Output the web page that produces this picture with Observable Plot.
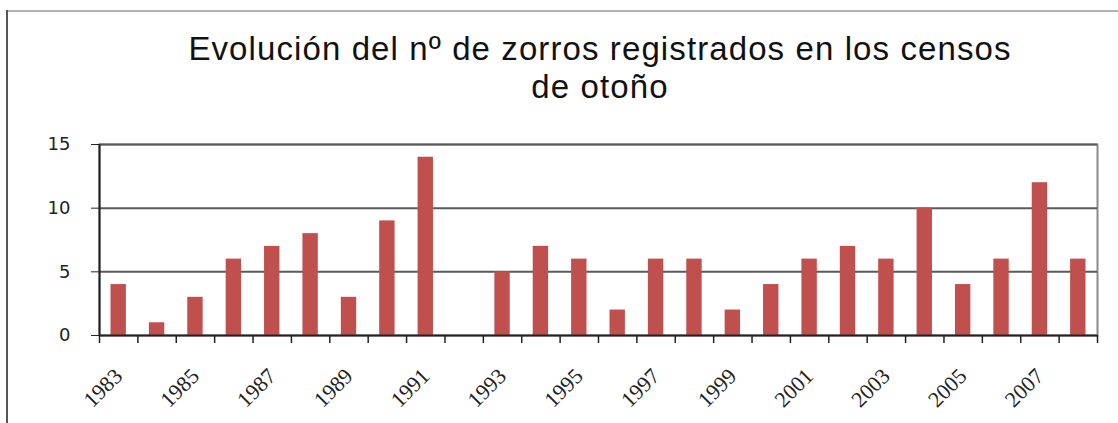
<!DOCTYPE html>
<html>
<head>
<meta charset="utf-8">
<script src="https://cdn.jsdelivr.net/npm/d3@7"></script>
<script src="https://cdn.jsdelivr.net/npm/@observablehq/plot@0.6"></script>
<style>
  html, body { margin: 0; padding: 0; background: #fff; }
  #wrap { position: relative; width: 1118px; height: 423px; overflow: hidden; background: #fff; }
  #frameTop { position: absolute; left: 7px; top: 10px; width: 1111px; height: 0; border-top: 2px solid #b4b4b4; }
  #frameLeft { position: absolute; left: 6px; top: 10px; width: 0; height: 413px; border-left: 2px solid #555; }
  #title { position: absolute; left: 0; top: 30px; width: 1200px; text-align: center;
           font-family: "Liberation Sans", Arial, sans-serif; font-size: 33px; letter-spacing: 1.1px;
           line-height: 38px; color: #111; }
  #chart { position: absolute; left: 0; top: 0; }
</style>
</head>
<body>
<div id="wrap">
  <div id="chart"></div>
  <div id="frameTop"></div>
  <div id="frameLeft"></div>
  <div id="title">Evolución del nº de zorros registrados en los censos<br>de otoño</div>
</div>
<script>
const years = [1983,1984,1985,1986,1987,1988,1989,1990,1991,1992,1993,1994,1995,
               1996,1997,1998,1999,2000,2001,2002,2003,2004,2005,2006,2007,2008];
const counts = [4,1,3,6,7,8,3,9,14,0,5,7,6,2,6,6,2,4,6,7,6,10,4,6,12,6];
const yTicks = [0,5,10,15];
const labelYears = [1983,1985,1987,1989,1991,1993,1995,1997,1999,2001,2003,2005,2007];

const data = years.map((y, i) => ({year: y, count: counts[i]}));
const boundaries = years.map(y => y - 0.5).concat([years[years.length - 1] + 0.5]);

const chart = Plot.plot({
  width: 1118,
  height: 423,
  marginLeft: 99,
  marginRight: 21,
  marginTop: 144,
  marginBottom: 88,
  style: {background: "transparent", overflow: "visible"},
  x: {type: "linear", domain: [years[0] - 0.5, years[years.length - 1] + 0.5]},
  y: {domain: [0, 15]},
  marks: [
    Plot.frame({stroke: "#8a8a8a", strokeWidth: 2}),
    Plot.gridY(yTicks.filter(d => d > 0), {stroke: "#5a5a5a", strokeOpacity: 1, strokeWidth: 2}),
    Plot.rectY(data, {
      x1: d => d.year - 0.5, x2: d => d.year + 0.5, y: "count",
      fill: "#C0504D", insetLeft: 11.5, insetRight: 11.5
    }),
    Plot.ruleY([0], {stroke: "#222", strokeWidth: 2}),
    Plot.ruleX([years[0] - 0.5], {stroke: "#222", strokeWidth: 2}),
    Plot.axisY({
      ticks: yTicks, tickSize: 8, tickPadding: 21, stroke: "#222",
      fontFamily: "DejaVu Sans, Verdana, sans-serif", fontSize: 18,
      fill: "#222", label: null, tickFormat: d => String(d)
    }),
    Plot.axisX({
      ticks: boundaries, tickSize: 8, stroke: "#222", strokeWidth: 1.5,
      tickFormat: () => "", label: null
    }),
    Plot.axisX({
      ticks: labelYears, tickSize: 0, tickPadding: 37, rotate: -45,
      textAnchor: "end", lineAnchor: "middle", fill: "#222",
      fontFamily: "Liberation Serif, Times New Roman, serif", fontSize: 22,
      tickFormat: d => String(d), label: null
    })
  ]
});
document.getElementById("chart").appendChild(chart);
</script>
</body>
</html>
